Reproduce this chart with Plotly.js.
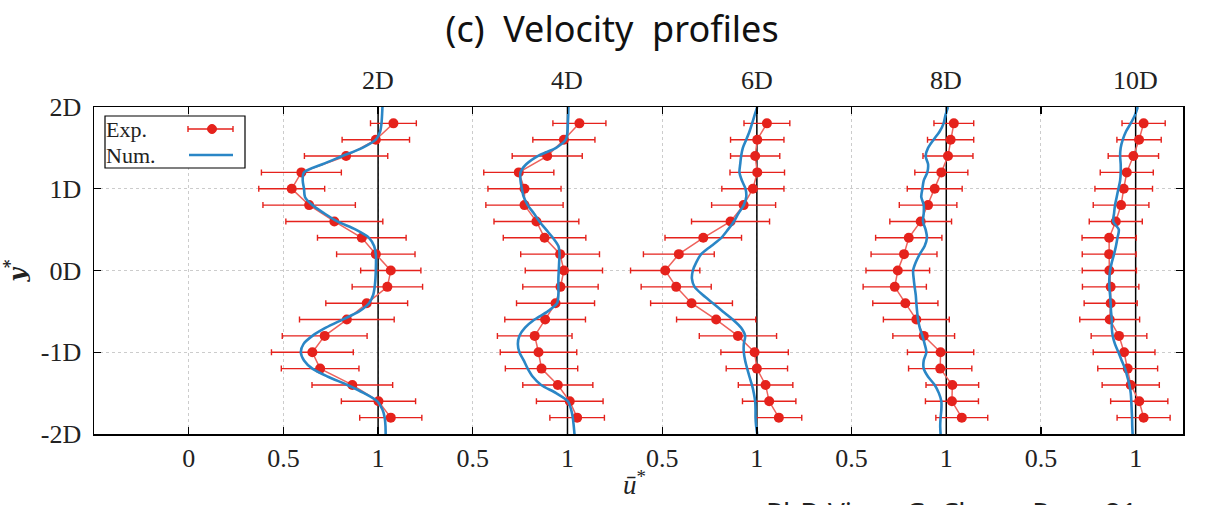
<!DOCTYPE html>
<html><head><meta charset="utf-8">
<script src="https://cdn.plot.ly/plotly-3.0.1.min.js"></script>
<style>html,body{margin:0;padding:0;background:#fff}</style>
</head><body><div id="chart" style="width:1205px;height:505px"></div>
<script>
// ---- data ----
const stations = ['2D','4D','6D','8D','10D'];
const xTickVals = [0,0.5,1,1.5,2,2.5,3,3.5,4,4.5,5];
const xTickText = ['0','0.5','1','0.5','1','0.5','1','0.5','1','0.5','1'];
const yTickVals = [-2,-1,0,1,2];
const yTickText = ['-2D','-1D','0D','1D','2D'];

const expY = [1.8,1.6,1.4,1.2,1.0,0.8,0.6,0.4,0.2,0,-0.2,-0.4,-0.6,-0.8,-1.0,-1.2,-1.4,-1.6,-1.8];
const exp2D = [1.081,0.988,0.831,0.595,0.544,0.636,0.769,0.914,0.988,1.067,1.049,0.940,0.835,0.718,0.653,0.694,0.864,1.002,1.067];
const err2D = [0.121,0.178,0.220,0.211,0.174,0.244,0.256,0.234,0.207,0.159,0.186,0.216,0.250,0.224,0.216,0.205,0.213,0.196,0.164];
const exp4D = [1.063,0.981,0.893,0.743,0.773,0.773,0.836,0.879,0.961,0.981,0.963,0.937,0.882,0.827,0.847,0.863,0.949,1.012,1.051];
const err4D = [0.140,0.164,0.185,0.185,0.193,0.204,0.224,0.218,0.208,0.204,0.199,0.206,0.213,0.197,0.202,0.191,0.185,0.176,0.144];
const exp6D = [1.053,1.002,0.991,1.002,0.979,0.930,0.861,0.717,0.588,0.516,0.574,0.655,0.785,0.900,0.988,1.000,1.046,1.065,1.116];
const err6D = [0.121,0.141,0.130,0.144,0.164,0.169,0.206,0.202,0.187,0.183,0.185,0.216,0.209,0.204,0.178,0.162,0.144,0.141,0.121];
const exp8D = [1.040,1.023,1.009,0.974,0.939,0.904,0.865,0.802,0.777,0.744,0.728,0.784,0.842,0.881,0.970,0.968,1.032,1.030,1.082];
const err8D = [0.105,0.122,0.132,0.140,0.145,0.152,0.163,0.175,0.174,0.168,0.167,0.172,0.174,0.163,0.175,0.167,0.139,0.140,0.137];
const exp10D = [1.042,1.018,0.988,0.953,0.937,0.923,0.895,0.860,0.860,0.861,0.868,0.868,0.863,0.912,0.939,0.958,0.974,1.019,1.042];
const err10D = [0.114,0.117,0.133,0.140,0.152,0.147,0.140,0.143,0.142,0.143,0.149,0.140,0.158,0.147,0.163,0.158,0.151,0.151,0.140];

const numY = [2.0,1.9,1.8,1.7,1.6,1.5,1.4,1.3,1.2,1.1,1.0,0.9,0.8,0.7,0.6,0.5,0.4,0.3,0.2,0.1,0,
  -0.1,-0.2,-0.3,-0.4,-0.5,-0.6,-0.7,-0.8,-0.9,-1.0,-1.1,-1.2,-1.3,-1.4,-1.5,-1.6,-1.7,-1.8,-1.9,-2.0];
const num2D = [1.023,1.021,1.018,1.011,0.988,0.917,0.812,0.706,0.609,0.602,0.609,0.614,0.653,0.715,0.785,0.882,0.952,0.979,0.988,0.989,0.988,
  0.986,0.982,0.974,0.952,0.900,0.812,0.724,0.653,0.606,0.592,0.609,0.653,0.736,0.838,0.926,0.996,1.023,1.035,1.039,1.040];
const num4D = [1.005,1.004,1.002,1.000,0.991,0.940,0.843,0.782,0.752,0.752,0.759,0.769,0.790,0.822,0.852,0.887,0.923,0.952,0.958,0.956,0.954,
  0.952,0.952,0.952,0.945,0.896,0.826,0.776,0.746,0.738,0.746,0.769,0.790,0.817,0.861,0.940,1.002,1.019,1.028,1.033,1.037];
const num6D = [1.002,0.988,0.975,0.961,0.944,0.926,0.917,0.912,0.908,0.921,0.940,0.944,0.931,0.903,0.879,0.847,0.812,0.759,0.706,0.680,0.662,
  0.657,0.671,0.715,0.768,0.820,0.873,0.917,0.938,0.931,0.931,0.938,0.949,0.961,0.974,0.984,0.991,0.993,0.993,0.996,1.002];
const num8D = [1.009,0.996,0.986,0.965,0.933,0.904,0.891,0.904,0.900,0.881,0.874,0.868,0.881,0.881,0.877,0.891,0.898,0.886,0.860,0.839,0.825,
  0.828,0.833,0.839,0.842,0.846,0.851,0.860,0.874,0.886,0.895,0.881,0.881,0.904,0.939,0.961,0.974,0.974,0.970,0.968,0.970];
const num10D = [1.011,0.996,0.974,0.949,0.932,0.921,0.918,0.921,0.921,0.918,0.909,0.900,0.891,0.886,0.882,0.911,0.904,0.896,0.886,0.874,0.865,
  0.861,0.861,0.865,0.868,0.870,0.874,0.874,0.879,0.891,0.909,0.926,0.944,0.956,0.967,0.974,0.977,0.979,0.981,0.982,0.984];

const expU = [exp2D, exp4D, exp6D, exp8D, exp10D];
const expErr = [err2D, err4D, err6D, err8D, err10D];
const numU = [num2D, num4D, num6D, num8D, num10D];

// ---- styling ----
const RED = '#e5221c', RED_LINE = '#ee625c', BLUE = '#2a86c6';
const serif = 'Liberation Serif, DejaVu Serif, serif';

const traces = [];
stations.forEach((s, i) => {
  traces.push({
    type: 'scatter', mode: 'lines+markers', name: 'Exp. ' + s,
    x: expU[i].map(u => u + i), y: expY,
    error_x: {type: 'data', array: expErr[i], visible: true, color: RED, thickness: 1.4, width: 3},
    line: {color: RED_LINE, width: 1.5},
    marker: {color: RED, size: 10},
    showlegend: false
  });
});
stations.forEach((s, i) => {
  traces.push({
    type: 'scatter', mode: 'lines', name: 'Num. ' + s,
    x: numU[i].map(u => u + i), y: numY,
    line: {color: BLUE, width: 2.6, shape: 'spline', smoothing: 0.8},
    showlegend: false
  });
});

// plot area pixel geometry for paper conversions
const L = 94, R = 1183, T = 107, B = 434;
const px = v => (v - L) / (R - L);
const py = v => (B - v) / (B - T);

const shapes = stations.map((s, i) => ({
  type: 'line', xref: 'x', yref: 'y', x0: i + 1, x1: i + 1, y0: -2, y1: 2,
  line: {color: '#000', width: 1.5}, layer: 'between'
}));
// custom legend (symbols on the right, as in the reference)
shapes.push({type: 'rect', xref: 'paper', yref: 'paper', x0: px(105), x1: px(245), y0: py(168), y1: py(116),
  line: {color: '#000', width: 1.2}, fillcolor: 'rgba(255,255,255,1)', layer: 'above'});
shapes.push({type: 'line', xref: 'paper', yref: 'paper', x0: px(188), x1: px(233), y0: py(129), y1: py(129), line: {color: RED, width: 1.4}});
shapes.push({type: 'line', xref: 'paper', yref: 'paper', x0: px(188), x1: px(188), y0: py(126), y1: py(132), line: {color: RED, width: 1.4}});
shapes.push({type: 'line', xref: 'paper', yref: 'paper', x0: px(233), x1: px(233), y0: py(126), y1: py(132), line: {color: RED, width: 1.4}});
shapes.push({type: 'circle', xref: 'paper', yref: 'paper', x0: px(207.5), x1: px(216.5), y0: py(133.5), y1: py(124.5),
  line: {color: RED, width: 1}, fillcolor: RED});
shapes.push({type: 'line', xref: 'paper', yref: 'paper', x0: px(189), x1: px(233), y0: py(155), y1: py(155), line: {color: BLUE, width: 2.6}});

const annotations = stations.map((s, i) => ({
  x: i + 1, xref: 'x', y: 1, yref: 'paper', yanchor: 'bottom', yshift: 10, showarrow: false,
  text: s, font: {family: serif, size: 26, color: '#222'}
}));
annotations.push({x: px(105), y: py(129.5), xref: 'paper', yref: 'paper', xanchor: 'left', yanchor: 'middle', showarrow: false,
  borderpad: 0, text: 'Exp.', font: {family: serif, size: 22, color: '#222'}});
annotations.push({x: px(105), y: py(155), xref: 'paper', yref: 'paper', xanchor: 'left', yanchor: 'middle', showarrow: false,
  borderpad: 0, text: 'Num.', font: {family: serif, size: 22, color: '#222'}});
annotations.push({x: px(634), y: py(483), xref: 'paper', yref: 'paper', xanchor: 'center', yanchor: 'middle', showarrow: false,
  text: '<i>ū</i><sup>*</sup>', font: {family: serif, size: 27, color: '#222'}});
annotations.push({x: px(764), y: py(491), xref: 'paper', yref: 'paper', xanchor: 'left', yanchor: 'top', showarrow: false,
  text: 'PhD Viva - G. Chen - Page 21', font: {family: 'Noto Sans, sans-serif', size: 28, color: '#222'}});

const axisCommon = {
  showline: true, linecolor: '#000', linewidth: 1.5, mirror: 'ticks',
  ticks: 'inside', ticklen: 7, tickwidth: 1.3, tickcolor: '#000',
  showgrid: true, gridcolor: '#cccccc', griddash: 'dot', gridwidth: 1,
  zeroline: false, tickmode: 'array',
  tickfont: {family: serif, size: 26, color: '#222'}
};

const layout = {
  width: 1205, height: 505,
  margin: {l: L, r: 1205 - R, t: T, b: 505 - B},
  paper_bgcolor: '#fff', plot_bgcolor: '#fff',
  title: {text: '(c)&nbsp; Velocity&nbsp; profiles', font: {family: 'Noto Sans, sans-serif', size: 36, color: '#111'},
    x: 0.508, xanchor: 'center', xref: 'container', y: 1 - 29 / 505, yanchor: 'middle', yref: 'container'},
  xaxis: Object.assign({}, axisCommon, {range: [-0.5, 5.25], tickvals: xTickVals, ticktext: xTickText}),
  yaxis: Object.assign({}, axisCommon, {range: [-2, 2], tickvals: yTickVals, ticktext: yTickText,
    ticklabelstandoff: 6,
    title: {text: '<b><i>y</i><sup>*</sup></b>', font: {family: 'DejaVu Serif, serif', size: 23, color: '#222'}, standoff: 10}}),
  shapes: shapes, annotations: annotations, showlegend: false
};

Plotly.newPlot('chart', traces, layout, {displayModeBar: false, staticPlot: true});
</script></body></html>
